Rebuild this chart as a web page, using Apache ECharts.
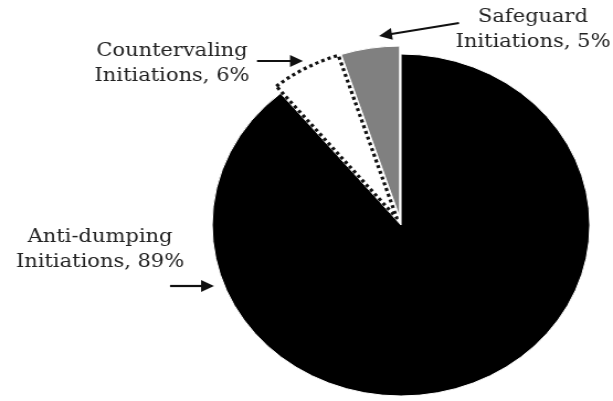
<!DOCTYPE html>
<html>
<head>
<meta charset="utf-8">
<script src="https://cdn.jsdelivr.net/npm/echarts@6/dist/echarts.min.js"></script>
<style>
html,body{margin:0;padding:0;background:#fff;overflow:hidden;}
#wrap{width:613px;height:401px;overflow:hidden;position:relative;}
#chart{width:555px;height:401px;transform:scaleX(1.1045);transform-origin:0 0;}
</style>
</head>
<body>
<div id="wrap"><div id="chart"></div></div>
<script>
const categories = ['Anti-dumping', 'Countervaling', 'Safeguard'];
const values = [89, 6, 5];
const SX = 1.1045;

const chart = echarts.init(document.getElementById('chart'), null, {renderer: 'canvas'});

// label anchor positions (screen px) for each slice
const labelPos = [[100, 250], [172, 64], [533, 30]];
// arrows in screen px: [x1,y1,x2,y2] pointing to (x2,y2)
const arrows = [[170, 286, 214, 286], [257, 61, 303, 61], [459, 23, 379, 36]];

function arrowGraphics(a) {
  const [x1, y1, x2, y2] = a;
  const dx = x2 - x1, dy = y2 - y1, L = Math.hypot(dx, dy);
  const ux = dx / L, uy = dy / L, hl = 13, hw = 6;
  const bx = x2 - ux * hl, by = y2 - uy * hl;
  const pts = [[x2, y2], [bx - uy * hw, by + ux * hw], [bx + uy * hw, by - ux * hw]];
  return [
    {type: 'line', shape: {x1: x1 / SX, y1: y1, x2: (bx + ux * 2) / SX, y2: by + uy * 2},
     style: {stroke: '#111', lineWidth: 2.2}},
    {type: 'polygon', shape: {points: pts.map(p => [p[0] / SX, p[1]])},
     style: {fill: '#111'}}
  ];
}

function labelGraphic(i) {
  return {
    type: 'text',
    style: {
      x: labelPos[i][0] / SX,
      y: labelPos[i][1],
      text: categories[i] + '\nInitiations, ' + values[i] + '%',
      font: '19px "DejaVu Serif"',
      lineHeight: 25,
      fill: '#222',
      align: 'center',
      verticalAlign: 'middle'
    }
  };
}

const styles = [
  {color: '#000000', borderColor: '#fff', borderWidth: 1},
  {color: '#ffffff', borderColor: '#111', borderWidth: 3.2, borderType: [3, 3]},
  {color: '#808080', borderColor: '#fff', borderWidth: 1}
];

chart.setOption({
  animation: false,
  backgroundColor: '#fff',
  graphic: arrows.flatMap(arrowGraphics).concat(categories.map((c, i) => labelGraphic(i))),
  series: [{
    type: 'pie',
    center: [401 / SX, 225],
    radius: 171,
    startAngle: 90,
    clockwise: true,
    selectedMode: 'multiple',
    selectedOffset: 8,
    emphasis: {disabled: true},
    data: categories.map((c, i) => ({
      name: c, value: values[i], selected: i > 0, itemStyle: styles[i]
    })),
    label: {show: false},
    labelLine: {show: false}
  }]
});
</script>
</body>
</html>
